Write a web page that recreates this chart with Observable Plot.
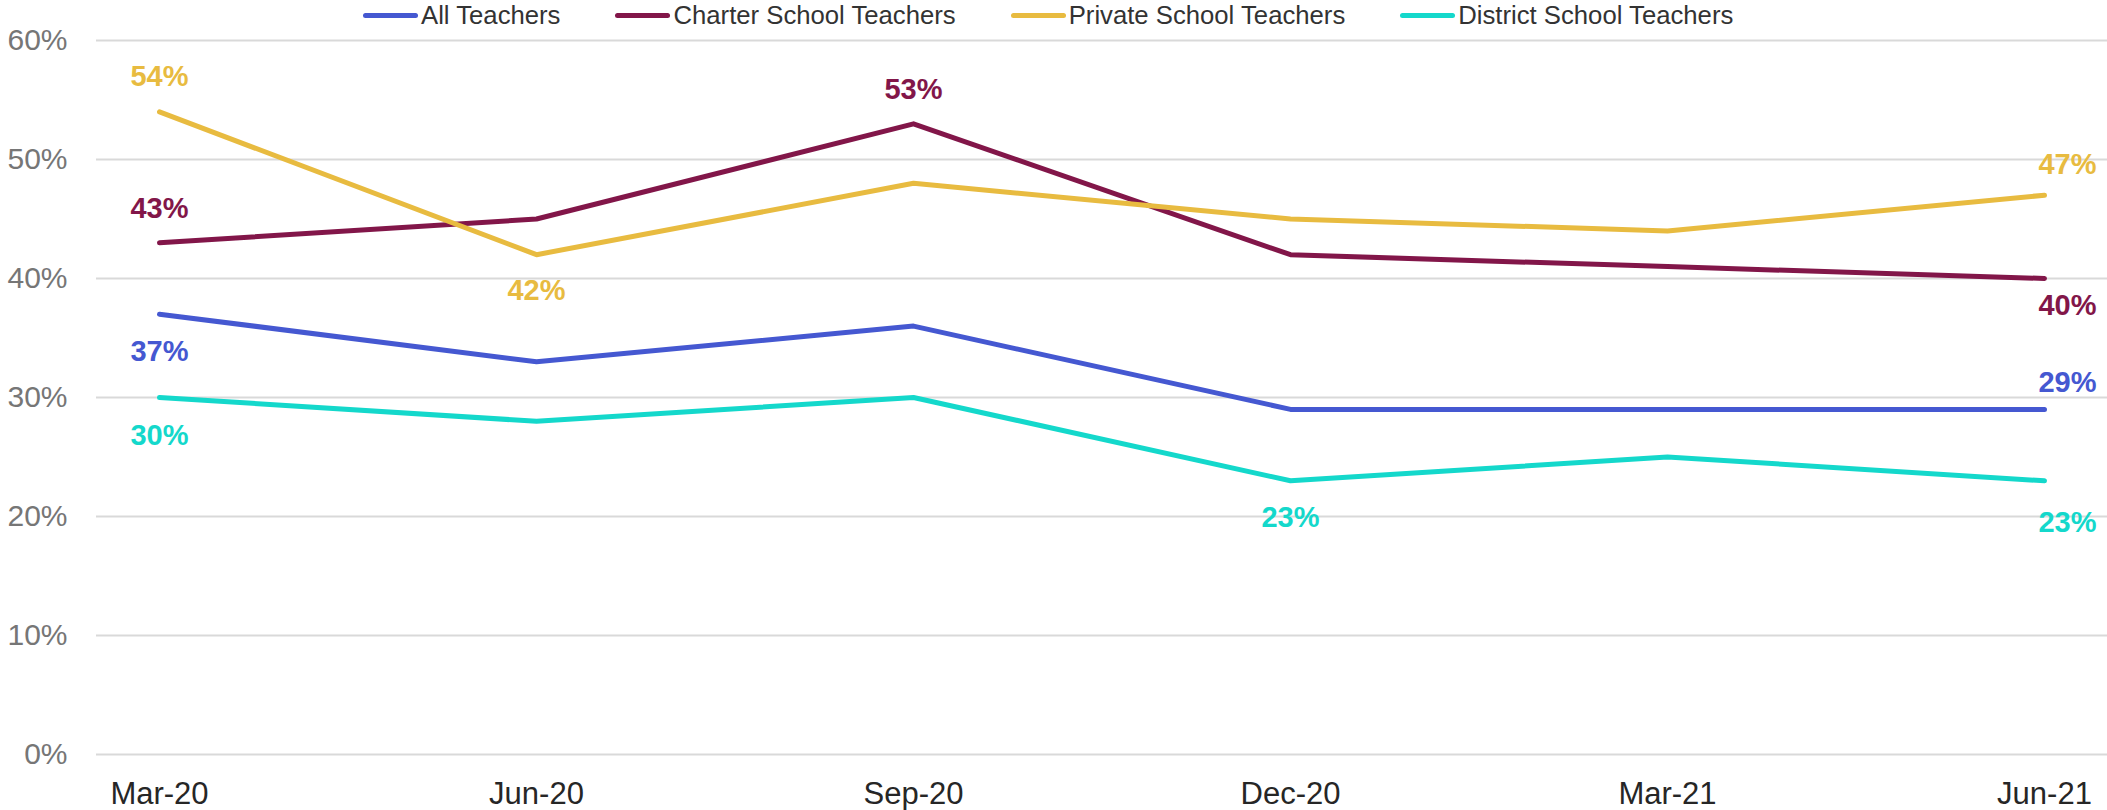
<!DOCTYPE html>
<html>
<head>
<meta charset="utf-8">
<script src="https://cdn.jsdelivr.net/npm/d3@7"></script>
<script src="https://cdn.jsdelivr.net/npm/@observablehq/plot@0.6"></script>
<style>
  body { margin: 0; background: #fff; font-family: "Liberation Sans", Arial, sans-serif; }
  #legend { height: 30px; display: flex; align-items: center; padding-left: 363px; gap: 55px; font-size: 25.7px; color: #333; position: relative; z-index: 2; }
  .item { display: flex; align-items: center; white-space: nowrap; }
  .sw { width: 55px; height: 5px; border-radius: 3px; margin-right: 3px; }
  #chart svg { overflow: visible; display: block; }
</style>
</head>
<body>
<div id="legend"></div>
<div id="chart"></div>
<script>
// ---- data ----
const periods = ["Mar-20", "Jun-20", "Sep-20", "Dec-20", "Mar-21", "Jun-21"];
const seriesNames = ["All Teachers", "Charter School Teachers", "Private School Teachers", "District School Teachers"];
const allTeachers      = [37, 33, 36, 29, 29, 29];
const charterTeachers  = [43, 45, 53, 42, 41, 40];
const privateTeachers  = [54, 42, 48, 45, 44, 47];
const districtTeachers = [30, 28, 30, 23, 25, 23];
const yTicks = [0, 10, 20, 30, 40, 50, 60];

// ---- styles / placement ----
const seriesColors = ["#4558D1", "#821649", "#E8BB40", "#14D8CB"];
const labelPlacement = [
  {series: "Private School Teachers", period: "Mar-20", dx: 0, dy: -35},
  {series: "Private School Teachers", period: "Jun-20", dx: 0, dy: 36},
  {series: "Private School Teachers", period: "Jun-21", dx: 23, dy: -30},
  {series: "Charter School Teachers", period: "Mar-20", dx: 0, dy: -34},
  {series: "Charter School Teachers", period: "Sep-20", dx: 0, dy: -34},
  {series: "Charter School Teachers", period: "Jun-21", dx: 23, dy: 27},
  {series: "All Teachers", period: "Mar-20", dx: 0, dy: 38},
  {series: "All Teachers", period: "Jun-21", dx: 23, dy: -27},
  {series: "District School Teachers", period: "Mar-20", dx: 0, dy: 38},
  {series: "District School Teachers", period: "Dec-20", dx: 0, dy: 37},
  {series: "District School Teachers", period: "Jun-21", dx: 23, dy: 42}
];

const seriesValues = [allTeachers, charterTeachers, privateTeachers, districtTeachers];
const rows = seriesNames.flatMap((s, i) => periods.map((p, j) => ({series: s, period: p, value: seriesValues[i][j]})));
const colorOf = Object.fromEntries(seriesNames.map((s, i) => [s, seriesColors[i]]));

// legend
const legend = document.getElementById("legend");
seriesNames.forEach(s => {
  const it = document.createElement("div");
  it.className = "item";
  it.innerHTML = `<span class="sw" style="background:${colorOf[s]}"></span><span>${s}</span>`;
  legend.appendChild(it);
});

const labelMarks = labelPlacement.map(lp => {
  const rec = rows.find(r => r.series === lp.series && r.period === lp.period);
  return Plot.text([rec], {
    x: "period", y: "value", text: d => d.value + "%",
    fill: colorOf[lp.series], dx: lp.dx, dy: lp.dy,
    fontSize: 29, fontWeight: "bold", fontFamily: "Liberation Sans, Arial, sans-serif"
  });
});

const chart = Plot.plot({
  width: 2107,
  height: 780,
  marginTop: 10,
  marginBottom: 56,
  marginLeft: 96,
  marginRight: 0,
  style: {fontFamily: "Liberation Sans, Arial, sans-serif", background: "#fff", overflow: "visible"},
  x: {type: "point", domain: periods, padding: 0.163},
  y: {domain: [0, 60]},
  color: {domain: seriesNames, range: seriesColors},
  marks: [
    Plot.gridY(yTicks, {stroke: "#d9d9d9", strokeOpacity: 1, strokeWidth: 2}),
    Plot.axisY(yTicks, {tickFormat: d => d + "%", tickSize: 0, tickPadding: 29, fontSize: 30, color: "#767676", fill: "#767676", label: null}),
    Plot.axisX({tickSize: 0, tickPadding: 27, fontSize: 31, color: "#262626", fill: "#262626", label: null}),
    Plot.line(rows, {x: "period", y: "value", z: "series", stroke: "series", strokeWidth: 5, strokeLinecap: "round", strokeLinejoin: "round"}),
    ...labelMarks
  ]
});
document.getElementById("chart").appendChild(chart);
</script>
</body>
</html>
